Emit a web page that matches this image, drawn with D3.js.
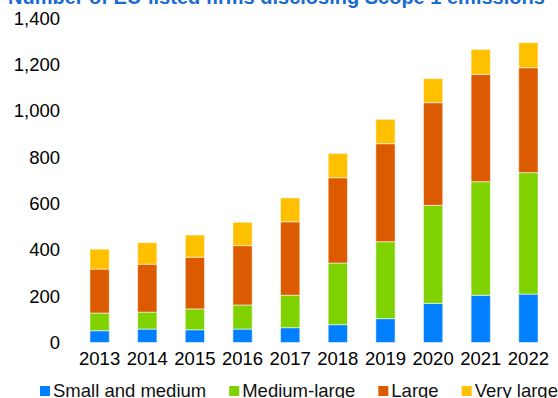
<!DOCTYPE html>
<html>
<head>
<meta charset="utf-8">
<script src="https://cdn.jsdelivr.net/npm/d3@7"></script>
<style>
  html, body { margin: 0; padding: 0; background: #fff; }
  svg { display: block; font-family: "Liberation Sans", Arial, sans-serif; }
</style>
</head>
<body>
<svg id="chart" width="558" height="398"></svg>
<script>
const years = ["2013","2014","2015","2016","2017","2018","2019","2020","2021","2022"];
const seriesNames = ["Small and medium", "Medium-large", "Large", "Very large"];
const smallMedium = [51, 58, 55, 58, 64, 77, 103, 169, 204, 209];
const mediumLarge = [76, 73, 90, 104, 140, 266, 332, 423, 490, 524];
const large = [190, 207, 223, 256, 317, 368, 423, 443, 463, 453];
const veryLarge = [86, 93, 96, 101, 103, 105, 105, 104, 108, 108];
const yTicks = [0, 200, 400, 600, 800, 1000, 1200, 1400];
const colors = ["#0080FF", "#7FD200", "#DC5A00", "#FFC000"];
const title = "Number of EU-listed firms disclosing Scope 1 emissions";

const seriesValues = [smallMedium, mediumLarge, large, veryLarge];
const table = years.map((y, i) => {
  const row = { year: y };
  seriesNames.forEach((n, k) => row[n] = seriesValues[k][i]);
  return row;
});
const stacked = d3.stack().keys(seriesNames)(table);

const svg = d3.select("#chart");
const x = d3.scaleBand().domain(years).range([75.8, 552.2]).paddingInner(0.595).paddingOuter(0.2975);
const y = d3.scaleLinear().domain([0, 1400]).range([342.5, 18.1]);
const color = d3.scaleOrdinal().domain(seriesNames).range(colors);

// title
svg.append("text")
  .attr("x", 8).attr("y", 4)
  .attr("font-size", 20).attr("font-weight", "bold")
  .attr("fill", "#1a6bd0")
  .text(title);

// y axis
const yAxis = svg.append("g")
  .attr("transform", "translate(60,0)")
  .call(d3.axisLeft(y).tickValues(yTicks).tickSize(0).tickPadding(0).tickFormat(d3.format(",")));
yAxis.select(".domain").remove();
yAxis.selectAll("text").attr("font-size", 18.5).attr("fill", "#000").attr("font-family", "Liberation Sans, Arial, sans-serif");

// x axis
const xAxis = svg.append("g")
  .attr("transform", "translate(0,342.5)")
  .call(d3.axisBottom(x).tickSize(0).tickPadding(9));
xAxis.select(".domain").remove();
xAxis.selectAll("text").attr("font-size", 18.5).attr("fill", "#000").attr("font-family", "Liberation Sans, Arial, sans-serif");

// bars
svg.append("g").selectAll("g")
  .data(stacked)
  .join("g")
  .attr("fill", d => color(d.key))
  .selectAll("rect")
  .data(d => d)
  .join("rect")
  .attr("x", d => x(d.data.year))
  .attr("width", x.bandwidth())
  .attr("y", d => y(d[1]))
  .attr("height", d => y(d[0]) - y(d[1]))
  .attr("stroke", "rgba(255,255,255,0.55)")
  .attr("stroke-width", 1);

// legend
const legend = svg.append("g").attr("transform", "translate(40,386)");
let lx = 0;
seriesNames.forEach((n) => {
  const g = legend.append("g").attr("transform", `translate(${lx},0)`);
  g.append("rect").attr("width", 10).attr("height", 10).attr("fill", color(n));
  const t = g.append("text").attr("x", 13).attr("y", 10.5)
    .attr("font-size", 18.5).attr("fill", "#111").text(n);
  lx += 13 + t.node().getComputedTextLength() + 23;
});
</script>
</body>
</html>
